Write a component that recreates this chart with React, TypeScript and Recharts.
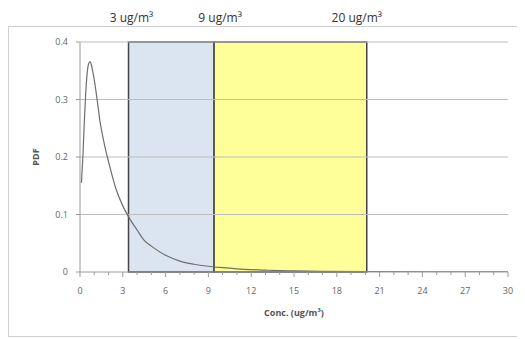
import React from 'react';
import {
  LineChart,
  Line,
  XAxis,
  YAxis,
  ReferenceArea,
  ReferenceLine,
} from 'recharts';

// Concentration (ug/m3) and probability density values
const concX = [0.1, 0.2, 0.3, 0.4, 0.5, 0.6, 0.7, 0.8, 0.9, 1.0, 1.2, 1.4, 1.6, 1.8, 2.0, 2.5, 3.0, 3.5, 4.0, 4.5, 5.0, 6.0, 7.0, 8.0, 9.0, 10, 11, 12, 13, 14, 15, 17, 20, 25, 30];
const pdfY = [0.155, 0.2, 0.26, 0.31, 0.345, 0.362, 0.366, 0.36, 0.348, 0.334, 0.3, 0.262, 0.235, 0.212, 0.192, 0.146, 0.115, 0.092, 0.073, 0.055, 0.045, 0.029, 0.019, 0.0135, 0.01, 0.0075, 0.0056, 0.0042, 0.0032, 0.0024, 0.0018, 0.001, 0.0005, 0.0002, 0.0001];

// Threshold band edges and their labels
const bandEdges = [3.4, 9.4, 20.1];
const bandLabels = ['3 ug/m³', '9 ug/m³', '20 ug/m³'];

// Axis ticks
const xTicks = Array.from({ length: 31 }, (_, i) => i);
const xMajorStep = 3;
const yTicks = [0, 0.1, 0.2, 0.3, 0.4];
const gridValues = [0.1, 0.2, 0.3, 0.4];

const data = concX.map((x, i) => ({ x, pdf: pdfY[i] }));

const FONT = '"Open Sans", "Liberation Sans", sans-serif';
const TICK_MARGIN = 22;
const labelDx = [3, 6, -10];

const XTick = (props: any) => {
  const { x, y, payload } = props;
  const v = payload.value;
  const axisY = y - TICK_MARGIN;
  const major = v % xMajorStep === 0;
  return (
    <g>
      <line x1={x} x2={x} y1={axisY} y2={axisY + (major ? 5 : 3)} stroke="#9a9a9a" strokeWidth={1} />
      {major && (
        <text x={x} y={y} textAnchor="middle" fontSize={9} fill="#666" fontFamily={FONT}>
          {v}
        </text>
      )}
    </g>
  );
};

const YLabel = (props: any) => {
  const vb = props.viewBox || {};
  const cx = vb.x + 7;
  const cy = vb.y + vb.height / 2;
  return (
    <text
      x={cx}
      y={cy}
      textAnchor="middle"
      dominantBaseline="central"
      transform={`rotate(-90 ${cx} ${cy})`}
      fontSize={9}
      fontWeight="bold"
      fill="#555"
      fontFamily={FONT}
    >
      PDF
    </text>
  );
};

const makeTopLabel = (text: string, dx: number) => (props: any) => {
  const vb = props.viewBox || {};
  return (
    <text
      x={vb.x + dx}
      y={vb.y - 20}
      textAnchor="middle"
      fontSize={12}
      fill="#333"
      fontFamily={FONT}
    >
      {text}
    </text>
  );
};

export default function App() {
  return (
    <div style={{ position: 'relative', width: 517, height: 331 }}>
      <div
        style={{
          position: 'absolute',
          left: 0,
          top: 18,
          width: 517,
          height: 311,
          boxSizing: 'border-box',
          borderTop: '1px solid #cfcfcf',
          borderLeft: '1px solid #cfcfcf',
          borderBottom: '1px solid #cfcfcf',
        }}
      />
      <div style={{ position: 'absolute', left: 0, top: 0 }}>
        <LineChart
          width={517}
          height={331}
          data={data}
          margin={{ top: 34, right: 17, bottom: 17, left: 20 }}
        >
          <XAxis
            dataKey="x"
            type="number"
            domain={[0, 30]}
            ticks={xTicks}
            interval={0}
            tickSize={0}
            tickMargin={TICK_MARGIN}
            tick={<XTick />}
            axisLine={{ stroke: '#9a9a9a' }}
            height={50}
            label={{
              value: 'Conc. (ug/m³)',
              position: 'insideBottom',
              offset: 6,
              fontSize: 9,
              fontWeight: 'bold',
              fill: '#555',
              fontFamily: FONT,
            }}
            allowDataOverflow
          />
          <YAxis
            type="number"
            domain={[0, 0.4]}
            ticks={yTicks}
            interval={0}
            width={52}
            tickSize={4}
            tickMargin={8}
            tick={{ fontSize: 9, fill: '#666', fontFamily: FONT }}
            tickLine={{ stroke: '#9a9a9a' }}
            axisLine={{ stroke: '#9a9a9a' }}
            label={<YLabel />}
            allowDataOverflow
          />
          <ReferenceArea
            x1={bandEdges[0]}
            x2={bandEdges[1]}
            y1={0}
            y2={0.4}
            fill="#dbe5f1"
            fillOpacity={1}
            stroke="#444"
            strokeWidth={1.5}
          />
          <ReferenceArea
            x1={bandEdges[1]}
            x2={bandEdges[2]}
            y1={0}
            y2={0.4}
            fill="#ffff99"
            fillOpacity={1}
            stroke="#444"
            strokeWidth={1.5}
          />
          {gridValues.map((g) => (
            <ReferenceLine key={g} y={g} stroke="#bdbdbd" strokeWidth={1} />
          ))}
          {bandEdges.map((e, i) => (
            <ReferenceLine
              key={`edge-${i}`}
              x={e}
              stroke="none"
              label={makeTopLabel(bandLabels[i], labelDx[i])}
            />
          ))}
          <Line
            type="monotone"
            dataKey="pdf"
            stroke="#6e6e6e"
            strokeWidth={1.2}
            dot={false}
            isAnimationActive={false}
          />
        </LineChart>
      </div>
    </div>
  );
}
